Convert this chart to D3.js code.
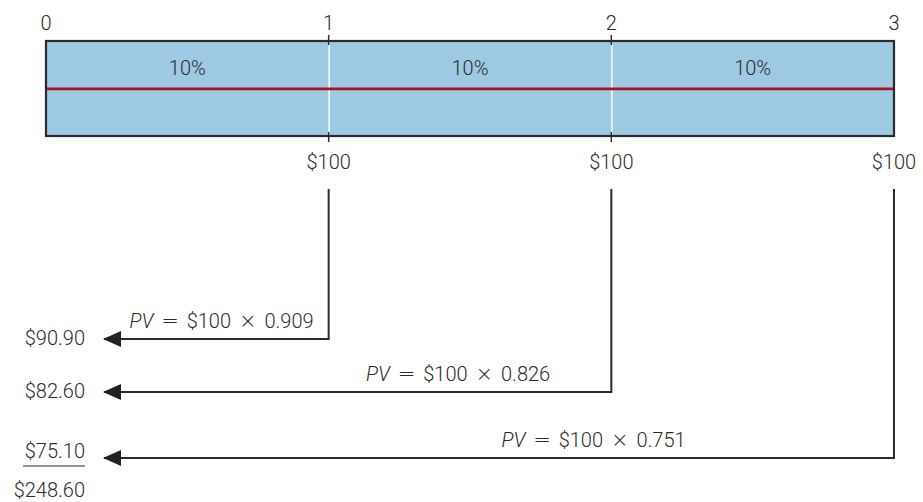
<!DOCTYPE html>
<html>
<head>
<meta charset="utf-8">
<script src="https://cdn.jsdelivr.net/npm/d3@7"></script>
<style>
  body { margin: 0; background: #fff; }
  text { font-family: Roboto, "Liberation Sans", Arial, sans-serif; font-weight: 300; fill: #2b2b2b; }
  .op { font-family: "DejaVu Sans", sans-serif; font-weight: 200; }
</style>
</head>
<body>
<svg id="chart"></svg>
<script>
// timeline data
const periods = [0, 1, 2, 3];
const rates = ["10%", "10%", "10%"];
const cashFlows = [100, 100, 100];          // received at t = 1, 2, 3
const discountFactors = [0.909, 0.826, 0.751];
const presentValues = [90.90, 82.60, 75.10];
const totalPV = 248.60;

const width = 923;
const height = 502;
const fontSize = 20;

const svg = d3.select("#chart")
    .attr("width", width)
    .attr("height", height);

// horizontal time scale
const x = d3.scaleLinear()
    .domain([0, 3])
    .range([46, 894]);

// vertical rows for each discounted flow
const rowY = d3.scaleOrdinal()
    .domain([1, 2, 3])
    .range([339, 392, 458]);

// where the PV formula sits along each arrow (in periods)
const labelAt = [0.621, 1.458, 1.937];

const boxTop = 41, boxBottom = 136, rateLineY = 88.8;

// arrow head
svg.append("defs").append("marker")
    .attr("id", "arrow")
    .attr("viewBox", "0 0 18 16")
    .attr("refX", 17)
    .attr("refY", 8)
    .attr("markerWidth", 18)
    .attr("markerHeight", 16)
    .attr("markerUnits", "userSpaceOnUse")
    .attr("orient", "auto")
    .append("path")
    .attr("d", "M0,0 L18,8 L0,16 Z")
    .attr("fill", "#222");

// blue timeline box
svg.append("rect")
    .attr("x", x(0))
    .attr("y", boxTop)
    .attr("width", x(3) - x(0))
    .attr("height", boxBottom - boxTop)
    .attr("fill", "#9dcae2")
    .attr("stroke", "#2b2b2b")
    .attr("stroke-width", 2.2);

// white dividers at interior periods
svg.selectAll(".divider")
    .data(periods.slice(1, -1))
    .enter()
    .append("line")
    .attr("x1", d => x(d) + 0.5)
    .attr("x2", d => x(d) + 0.5)
    .attr("y1", boxTop + 1)
    .attr("y2", boxBottom - 1)
    .attr("stroke", "#fff")
    .attr("stroke-width", 1.4);

// red interest-rate line
svg.append("line")
    .attr("x1", x(0) + 1)
    .attr("x2", x(3) - 1)
    .attr("y1", rateLineY)
    .attr("y2", rateLineY)
    .attr("stroke", "#b0101b")
    .attr("stroke-width", 2.8);

// small tick marks above and below the box
periods.slice(1, -1).forEach(p => {
    [[boxTop - 6, boxTop + 4], [boxBottom - 4, boxBottom + 6]].forEach(([a, b]) => {
        svg.append("line")
            .attr("x1", x(p)).attr("x2", x(p))
            .attr("y1", a).attr("y2", b)
            .attr("stroke", "#2b2b2b")
            .attr("stroke-width", 1.5);
    });
});

// period labels
svg.selectAll(".period")
    .data(periods)
    .enter()
    .append("text")
    .attr("x", d => x(d))
    .attr("y", 30)
    .attr("text-anchor", "middle")
    .style("font-size", fontSize + "px")
    .text(d => d);

// rate labels
svg.selectAll(".rate")
    .data(rates)
    .enter()
    .append("text")
    .attr("x", (d, i) => x(i + 0.5))
    .attr("y", 75)
    .attr("text-anchor", "middle")
    .style("font-size", fontSize + "px")
    .text(d => d);

// cash flow labels
svg.selectAll(".cf")
    .data(cashFlows)
    .enter()
    .append("text")
    .attr("x", (d, i) => x(i + 1))
    .attr("y", 169)
    .attr("text-anchor", "middle")
    .style("font-size", fontSize + "px")
    .text(d => "$" + d);

const arrowEnd = 100;

// connectors: down from cash flow, then left to the PV column
cashFlows.forEach((cf, i) => {
    const t = i + 1;
    const y = rowY(t);
    svg.append("path")
        .attr("d", `M${x(t)},189 L${x(t)},${y} L${arrowEnd + 4},${y}`)
        .attr("fill", "none")
        .attr("stroke", "#2b2b2b")
        .attr("stroke-width", 2)
        .attr("marker-end", "url(#arrow)");

    const label = svg.append("text")
        .attr("x", x(labelAt[i]))
        .attr("y", y - 11)
        .attr("text-anchor", "middle")
        .style("font-size", fontSize + "px")
        .style("word-spacing", "3px");
    label.append("tspan").style("font-style", "italic").text("PV ");
    label.append("tspan").attr("class", "op").style("font-size", "21px").text("=");
    label.append("tspan").text(` $${cf} `);
    label.append("tspan").attr("class", "op").style("font-size", "21px").text("\u00D7");
    label.append("tspan").text(` ${discountFactors[i].toFixed(3)}`);
});

// present values on the left (last one sits a little higher, above the sum rule)
svg.selectAll(".pv")
    .data(presentValues)
    .enter()
    .append("text")
    .attr("x", 85)
    .attr("y", (d, i) => rowY(i + 1) + (i === presentValues.length - 1 ? 0 : 6))
    .attr("text-anchor", "end")
    .style("font-size", fontSize + "px")
    .text(d => "$" + d.toFixed(2));

// sum rule
svg.append("line")
    .attr("x1", 23)
    .attr("x2", 85)
    .attr("y1", 466)
    .attr("y2", 466)
    .attr("stroke", "#2b2b2b")
    .attr("stroke-width", 1.2);

svg.append("text")
    .attr("x", 85)
    .attr("y", 497)
    .attr("text-anchor", "end")
    .style("font-size", fontSize + "px")
    .text("$" + totalPV.toFixed(2));
</script>
</body>
</html>
